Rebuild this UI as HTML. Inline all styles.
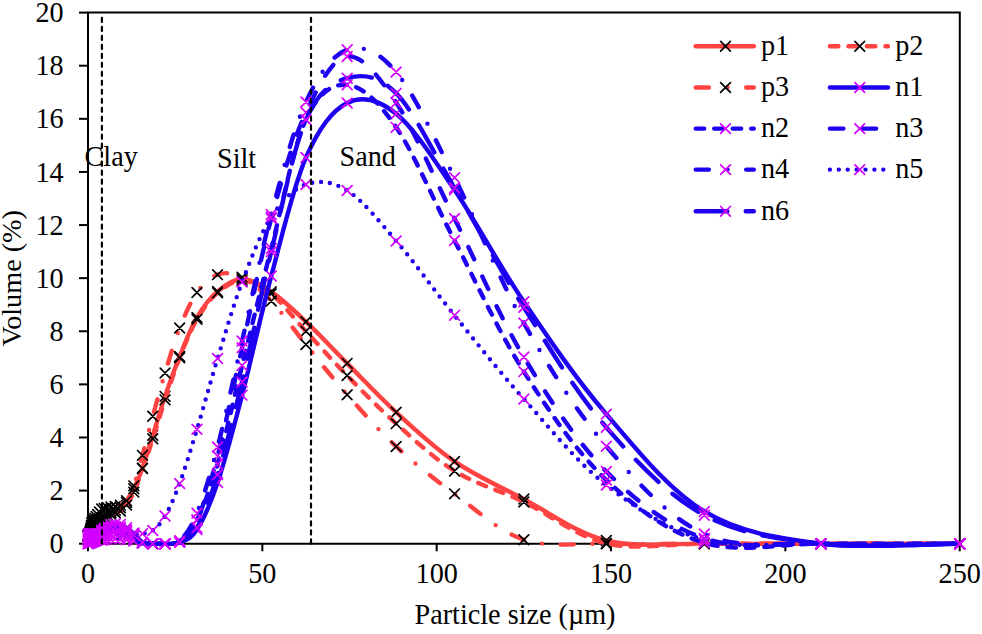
<!DOCTYPE html>
<html><head><meta charset="utf-8"><style>
html,body{margin:0;padding:0;background:#fff;width:982px;height:634px;overflow:hidden}
svg{display:block}
text{font-family:"Liberation Serif", serif;font-size:28.2px;fill:#000}
</style></head><body>
<svg width="982" height="634" viewBox="0 0 982 634">
<path d="M88.0,12.6H959.8V543.7H88.0Z" fill="none" stroke="#000" stroke-width="2"/>
<line x1="79" y1="543.70" x2="88.0" y2="543.70" stroke="#000" stroke-width="2"/>
<text transform="translate(63.60,553.30) scale(1,1.05)" text-anchor="end">0</text>
<line x1="79" y1="490.59" x2="88.0" y2="490.59" stroke="#000" stroke-width="2"/>
<text transform="translate(63.60,500.19) scale(1,1.05)" text-anchor="end">2</text>
<line x1="79" y1="437.48" x2="88.0" y2="437.48" stroke="#000" stroke-width="2"/>
<text transform="translate(63.60,447.08) scale(1,1.05)" text-anchor="end">4</text>
<line x1="79" y1="384.37" x2="88.0" y2="384.37" stroke="#000" stroke-width="2"/>
<text transform="translate(63.60,393.97) scale(1,1.05)" text-anchor="end">6</text>
<line x1="79" y1="331.26" x2="88.0" y2="331.26" stroke="#000" stroke-width="2"/>
<text transform="translate(63.60,340.86) scale(1,1.05)" text-anchor="end">8</text>
<line x1="79" y1="278.15" x2="88.0" y2="278.15" stroke="#000" stroke-width="2"/>
<text transform="translate(63.60,287.75) scale(1,1.05)" text-anchor="end">10</text>
<line x1="79" y1="225.04" x2="88.0" y2="225.04" stroke="#000" stroke-width="2"/>
<text transform="translate(63.60,234.64) scale(1,1.05)" text-anchor="end">12</text>
<line x1="79" y1="171.93" x2="88.0" y2="171.93" stroke="#000" stroke-width="2"/>
<text transform="translate(63.60,181.53) scale(1,1.05)" text-anchor="end">14</text>
<line x1="79" y1="118.82" x2="88.0" y2="118.82" stroke="#000" stroke-width="2"/>
<text transform="translate(63.60,128.42) scale(1,1.05)" text-anchor="end">16</text>
<line x1="79" y1="65.71" x2="88.0" y2="65.71" stroke="#000" stroke-width="2"/>
<text transform="translate(63.60,75.31) scale(1,1.05)" text-anchor="end">18</text>
<line x1="79" y1="12.60" x2="88.0" y2="12.60" stroke="#000" stroke-width="2"/>
<text transform="translate(63.60,22.20) scale(1,1.05)" text-anchor="end">20</text>
<line x1="88.00" y1="543.7" x2="88.00" y2="551.3" stroke="#000" stroke-width="2"/>
<text transform="translate(88.00,583.20) scale(1,1.05)" text-anchor="middle">0</text>
<line x1="262.34" y1="543.7" x2="262.34" y2="551.3" stroke="#000" stroke-width="2"/>
<text transform="translate(262.34,583.20) scale(1,1.05)" text-anchor="middle">50</text>
<line x1="436.68" y1="543.7" x2="436.68" y2="551.3" stroke="#000" stroke-width="2"/>
<text transform="translate(436.68,583.20) scale(1,1.05)" text-anchor="middle">100</text>
<line x1="611.02" y1="543.7" x2="611.02" y2="551.3" stroke="#000" stroke-width="2"/>
<text transform="translate(611.02,583.20) scale(1,1.05)" text-anchor="middle">150</text>
<line x1="785.36" y1="543.7" x2="785.36" y2="551.3" stroke="#000" stroke-width="2"/>
<text transform="translate(785.36,583.20) scale(1,1.05)" text-anchor="middle">200</text>
<line x1="959.70" y1="543.7" x2="959.70" y2="551.3" stroke="#000" stroke-width="2"/>
<text transform="translate(959.70,583.20) scale(1,1.05)" text-anchor="middle">250</text>
<text transform="translate(414.50,624.00) scale(1,1.05)">Particle size (µm)</text>
<text transform="translate(20.5,278.3) rotate(-90)" text-anchor="middle">Volume (%)</text>
<path d="M88.04,535.73 C88.04,535.73 88.04,535.73 88.04,535.73 C88.05,535.73 88.05,535.73 88.05,535.73 C88.06,535.73 88.06,535.73 88.06,535.73 C88.07,535.73 88.07,535.73 88.08,535.73 C88.08,535.73 88.08,535.73 88.09,535.73 C88.09,535.73 88.10,535.73 88.11,535.73 C88.11,535.73 88.12,535.73 88.13,535.73 C88.13,535.73 88.14,535.73 88.15,535.73 C88.16,535.73 88.17,535.73 88.18,535.73 C88.19,535.73 88.20,535.73 88.21,535.73 C88.23,535.73 88.24,535.73 88.25,535.73 C88.27,535.73 88.28,535.73 88.30,535.73 C88.32,535.73 88.34,535.73 88.36,535.73 C88.38,535.73 88.40,535.73 88.43,535.73 C88.45,535.73 88.48,535.73 88.51,535.73 C88.54,535.73 88.57,535.73 88.60,535.73 C88.64,535.73 88.67,535.73 88.72,535.73 C88.76,535.73 88.80,535.73 88.85,535.73 C88.90,535.73 88.95,535.73 89.01,535.73 C89.07,535.73 89.13,535.76 89.20,535.73 C89.27,535.71 89.35,535.80 89.43,535.56 C89.51,535.33 89.60,534.78 89.70,534.33 C89.80,533.88 89.91,533.39 90.02,532.85 C90.14,532.32 90.27,531.74 90.41,531.10 C90.55,530.47 90.70,529.78 90.86,529.02 C91.03,528.26 91.21,527.45 91.41,526.55 C91.60,525.64 91.81,524.25 92.05,523.60 C92.28,522.95 92.54,522.88 92.82,522.64 C93.10,522.40 93.39,522.32 93.73,522.14 C94.06,521.96 94.41,521.76 94.81,521.55 C95.21,521.33 95.63,521.10 96.10,520.84 C96.57,520.58 97.07,520.31 97.63,520.00 C98.19,519.69 98.79,519.37 99.45,519.00 C100.12,518.64 100.83,518.25 101.62,517.81 C102.41,517.38 103.26,516.92 104.20,516.40 C105.14,515.88 106.14,515.33 107.26,514.72 C108.38,514.11 109.58,513.45 110.91,512.72 C112.24,511.99 113.66,511.16 115.24,510.34 C116.82,509.53 118.51,509.15 120.39,507.85 C122.28,506.55 124.29,505.73 126.52,502.54 C128.76,499.36 131.15,494.49 133.81,488.74 C136.47,482.99 139.32,476.96 142.48,468.06 C145.64,459.16 149.03,447.29 152.79,435.34 C156.55,423.39 160.58,409.49 165.05,396.35 C169.52,383.21 174.31,369.65 179.63,356.50 C184.95,343.35 190.64,328.30 196.96,317.45 C203.29,306.60 210.06,297.84 217.58,291.42 C225.10,285.01 233.15,278.91 242.10,278.95 C251.04,279.00 260.61,284.56 271.25,291.69 C281.89,298.81 293.27,309.75 305.93,321.70 C318.58,333.65 332.11,348.29 347.16,363.38 C362.20,378.47 378.30,395.91 396.19,412.25 C414.08,428.59 433.23,446.93 454.50,461.40 C475.78,475.88 498.55,485.90 523.85,499.09 C549.15,512.27 576.23,533.08 606.32,540.51 C636.41,547.95 668.60,543.17 704.38,543.70 C740.17,544.23 778.46,543.70 821.01,543.70 C863.56,543.70 936.58,543.70 959.70,543.70" fill="none" stroke="#FF4343" stroke-width="4.4" stroke-linecap="round" stroke-linejoin="round"/>
<path d="M83.2,530.9L92.9,540.6M83.2,540.6L92.9,530.9M83.2,530.9L92.9,540.6M83.2,540.6L92.9,530.9M83.2,530.9L92.9,540.6M83.2,540.6L92.9,530.9M83.2,530.9L92.9,540.6M83.2,540.6L92.9,530.9M83.2,530.9L92.9,540.6M83.2,540.6L92.9,530.9M83.2,530.9L92.9,540.6M83.2,540.6L92.9,530.9M83.3,530.9L93.0,540.6M83.3,540.6L93.0,530.9M83.3,530.9L93.0,540.6M83.3,540.6L93.0,530.9M83.3,530.9L93.0,540.6M83.3,540.6L93.0,530.9M83.3,530.9L93.0,540.6M83.3,540.6L93.0,530.9M83.4,530.9L93.1,540.6M83.4,540.6L93.1,530.9M83.4,530.9L93.1,540.6M83.4,540.6L93.1,530.9M83.5,530.9L93.2,540.6M83.5,540.6L93.2,530.9M83.5,530.9L93.2,540.6M83.5,540.6L93.2,530.9M83.6,530.9L93.3,540.6M83.6,540.6L93.3,530.9M83.7,530.9L93.4,540.6M83.7,540.6L93.4,530.9M83.8,530.9L93.5,540.6M83.8,540.6L93.5,530.9M83.9,530.9L93.6,540.6M83.9,540.6L93.6,530.9M84.0,530.9L93.7,540.6M84.0,540.6L93.7,530.9M84.2,530.9L93.9,540.6M84.2,540.6L93.9,530.9M84.4,530.9L94.1,540.6M84.4,540.6L94.1,530.9M84.6,530.7L94.3,540.4M84.6,540.4L94.3,530.7M84.9,529.5L94.6,539.2M84.9,539.2L94.6,529.5M85.2,528.0L94.9,537.7M85.2,537.7L94.9,528.0M85.6,526.3L95.3,536.0M85.6,536.0L95.3,526.3M86.0,524.2L95.7,533.9M86.0,533.9L95.7,524.2M86.6,521.7L96.3,531.4M86.6,531.4L96.3,521.7M87.2,518.8L96.9,528.5M87.2,528.5L96.9,518.8M88.0,517.8L97.7,527.5M88.0,527.5L97.7,517.8M88.9,517.3L98.6,527.0M88.9,527.0L98.6,517.3M90.0,516.7L99.7,526.4M90.0,526.4L99.7,516.7M91.2,516.0L100.9,525.7M91.2,525.7L100.9,516.0M92.8,515.2L102.5,524.9M92.8,524.9L102.5,515.2M94.6,514.2L104.3,523.9M94.6,523.9L104.3,514.2M96.8,513.0L106.5,522.7M96.8,522.7L106.5,513.0M99.3,511.5L109.0,521.2M99.3,521.2L109.0,511.5M102.4,509.9L112.1,519.6M102.4,519.6L112.1,509.9M106.1,507.9L115.8,517.6M106.1,517.6L115.8,507.9M110.4,505.5L120.1,515.2M110.4,515.2L120.1,505.5M115.5,503.0L125.2,512.7M115.5,512.7L125.2,503.0M121.7,497.7L131.4,507.4M121.7,507.4L131.4,497.7M129.0,483.9L138.7,493.6M129.0,493.6L138.7,483.9M137.6,463.2L147.3,472.9M137.6,472.9L147.3,463.2M147.9,430.5L157.6,440.2M147.9,440.2L157.6,430.5M160.2,391.5L169.9,401.2M160.2,401.2L169.9,391.5M174.8,351.7L184.5,361.4M174.8,361.4L184.5,351.7M192.1,312.6L201.8,322.3M192.1,322.3L201.8,312.6M212.7,286.6L222.4,296.3M212.7,296.3L222.4,286.6M237.2,274.1L246.9,283.8M237.2,283.8L246.9,274.1M266.4,286.8L276.1,296.5M266.4,296.5L276.1,286.8M301.1,316.9L310.8,326.6M301.1,326.6L310.8,316.9M342.3,358.5L352.0,368.2M342.3,368.2L352.0,358.5M391.3,407.4L401.0,417.1M391.3,417.1L401.0,407.4M449.7,456.6L459.4,466.3M449.7,466.3L459.4,456.6M519.0,494.2L528.7,503.9M519.0,503.9L528.7,494.2M601.5,535.7L611.2,545.4M601.5,545.4L611.2,535.7M699.5,538.8L709.2,548.5M699.5,548.5L709.2,538.8M816.2,538.9L825.9,548.6M816.2,548.6L825.9,538.9M954.9,538.9L964.6,548.6M954.9,548.6L964.6,538.9" fill="none" stroke="#000" stroke-width="1.7" stroke-linecap="round"/>
<path d="M88.04,535.73 C88.04,535.73 88.04,535.73 88.04,535.73 C88.05,535.73 88.05,535.73 88.05,535.73 C88.06,535.73 88.06,535.73 88.06,535.73 C88.07,535.73 88.07,535.73 88.08,535.73 C88.08,535.73 88.08,535.73 88.09,535.73 C88.09,535.73 88.10,535.73 88.11,535.73 C88.11,535.73 88.12,535.73 88.13,535.73 C88.13,535.73 88.14,535.73 88.15,535.73 C88.16,535.73 88.17,535.73 88.18,535.73 C88.19,535.73 88.20,535.73 88.21,535.73 C88.23,535.73 88.24,535.73 88.25,535.73 C88.27,535.73 88.28,535.73 88.30,535.73 C88.32,535.73 88.34,535.73 88.36,535.73 C88.38,535.73 88.40,535.73 88.43,535.73 C88.45,535.73 88.48,535.73 88.51,535.73 C88.54,535.73 88.57,535.73 88.60,535.73 C88.64,535.73 88.67,535.73 88.72,535.73 C88.76,535.73 88.80,535.73 88.85,535.73 C88.90,535.73 88.95,535.73 89.01,535.73 C89.07,535.73 89.13,535.76 89.20,535.73 C89.27,535.70 89.35,535.80 89.43,535.56 C89.51,535.31 89.60,534.74 89.70,534.27 C89.80,533.80 89.91,533.29 90.02,532.73 C90.14,532.18 90.27,531.58 90.41,530.91 C90.55,530.25 90.70,529.53 90.86,528.74 C91.03,527.95 91.21,527.11 91.41,526.16 C91.60,525.22 91.81,523.76 92.05,523.10 C92.28,522.44 92.54,522.41 92.82,522.19 C93.10,521.98 93.39,521.95 93.73,521.81 C94.06,521.67 94.41,521.52 94.81,521.36 C95.21,521.19 95.63,521.01 96.10,520.82 C96.57,520.62 97.07,520.41 97.63,520.17 C98.19,519.94 98.79,519.69 99.45,519.41 C100.12,519.13 100.83,518.83 101.62,518.50 C102.41,518.17 103.26,517.82 104.20,517.42 C105.14,517.03 106.14,516.61 107.26,516.14 C108.38,515.67 109.58,515.17 110.91,514.61 C112.24,514.06 113.66,513.39 115.24,512.80 C116.82,512.20 118.51,512.30 120.39,511.03 C122.28,509.77 124.29,508.34 126.52,505.20 C128.76,502.06 131.15,498.29 133.81,492.19 C136.47,486.09 139.32,477.49 142.48,468.59 C145.64,459.69 149.03,450.26 152.79,438.79 C156.55,427.33 160.58,413.29 165.05,399.80 C169.52,386.31 174.31,371.25 179.63,357.83 C184.95,344.42 190.64,330.16 196.96,319.31 C203.29,308.46 210.06,299.17 217.58,292.75 C225.10,286.33 233.15,280.64 242.10,280.81 C251.04,280.99 260.61,285.40 271.25,293.81 C281.89,302.22 293.27,317.63 305.93,331.26 C318.58,344.89 332.11,360.19 347.16,375.59 C362.20,390.99 378.30,407.77 396.19,423.67 C414.08,439.56 433.23,457.90 454.50,470.96 C475.78,484.02 498.55,489.93 523.85,502.01 C549.15,514.09 576.23,536.49 606.32,543.43 C636.41,550.38 668.60,543.66 704.38,543.70 C740.17,543.74 778.46,543.70 821.01,543.70 C863.56,543.70 936.58,543.70 959.70,543.70" fill="none" stroke="#FF4343" stroke-width="4.4" stroke-linecap="round" stroke-linejoin="round" stroke-dasharray="8.5 10"/>
<path d="M83.2,530.9L92.9,540.6M83.2,540.6L92.9,530.9M83.2,530.9L92.9,540.6M83.2,540.6L92.9,530.9M83.2,530.9L92.9,540.6M83.2,540.6L92.9,530.9M83.2,530.9L92.9,540.6M83.2,540.6L92.9,530.9M83.2,530.9L92.9,540.6M83.2,540.6L92.9,530.9M83.2,530.9L92.9,540.6M83.2,540.6L92.9,530.9M83.3,530.9L93.0,540.6M83.3,540.6L93.0,530.9M83.3,530.9L93.0,540.6M83.3,540.6L93.0,530.9M83.3,530.9L93.0,540.6M83.3,540.6L93.0,530.9M83.3,530.9L93.0,540.6M83.3,540.6L93.0,530.9M83.4,530.9L93.1,540.6M83.4,540.6L93.1,530.9M83.4,530.9L93.1,540.6M83.4,540.6L93.1,530.9M83.5,530.9L93.2,540.6M83.5,540.6L93.2,530.9M83.5,530.9L93.2,540.6M83.5,540.6L93.2,530.9M83.6,530.9L93.3,540.6M83.6,540.6L93.3,530.9M83.7,530.9L93.4,540.6M83.7,540.6L93.4,530.9M83.8,530.9L93.5,540.6M83.8,540.6L93.5,530.9M83.9,530.9L93.6,540.6M83.9,540.6L93.6,530.9M84.0,530.9L93.7,540.6M84.0,540.6L93.7,530.9M84.2,530.9L93.9,540.6M84.2,540.6L93.9,530.9M84.4,530.9L94.1,540.6M84.4,540.6L94.1,530.9M84.6,530.7L94.3,540.4M84.6,540.4L94.3,530.7M84.9,529.4L94.6,539.1M84.9,539.1L94.6,529.4M85.2,527.9L94.9,537.6M85.2,537.6L94.9,527.9M85.6,526.1L95.3,535.8M85.6,535.8L95.3,526.1M86.0,523.9L95.7,533.6M86.0,533.6L95.7,523.9M86.6,521.3L96.3,531.0M86.6,531.0L96.3,521.3M87.2,518.2L96.9,527.9M87.2,527.9L96.9,518.2M88.0,517.3L97.7,527.0M88.0,527.0L97.7,517.3M88.9,517.0L98.6,526.7M88.9,526.7L98.6,517.0M90.0,516.5L99.7,526.2M90.0,526.2L99.7,516.5M91.2,516.0L100.9,525.7M91.2,525.7L100.9,516.0M92.8,515.3L102.5,525.0M92.8,525.0L102.5,515.3M94.6,514.6L104.3,524.3M94.6,524.3L104.3,514.6M96.8,513.7L106.5,523.4M96.8,523.4L106.5,513.7M99.3,512.6L109.0,522.3M99.3,522.3L109.0,512.6M102.4,511.3L112.1,521.0M102.4,521.0L112.1,511.3M106.1,509.8L115.8,519.5M106.1,519.5L115.8,509.8M110.4,507.9L120.1,517.6M110.4,517.6L120.1,507.9M115.5,506.2L125.2,515.9M115.5,515.9L125.2,506.2M121.7,500.3L131.4,510.0M121.7,510.0L131.4,500.3M129.0,487.3L138.7,497.0M129.0,497.0L138.7,487.3M137.6,463.7L147.3,473.4M137.6,473.4L147.3,463.7M147.9,433.9L157.6,443.6M147.9,443.6L157.6,433.9M160.2,395.0L169.9,404.7M160.2,404.7L169.9,395.0M174.8,353.0L184.5,362.7M174.8,362.7L184.5,353.0M192.1,314.5L201.8,324.2M192.1,324.2L201.8,314.5M212.7,287.9L222.4,297.6M212.7,297.6L222.4,287.9M237.2,276.0L246.9,285.7M237.2,285.7L246.9,276.0M266.4,289.0L276.1,298.7M266.4,298.7L276.1,289.0M301.1,326.4L310.8,336.1M301.1,336.1L310.8,326.4M342.3,370.7L352.0,380.4M342.3,380.4L352.0,370.7M391.3,418.8L401.0,428.5M391.3,428.5L401.0,418.8M449.7,466.1L459.4,475.8M449.7,475.8L459.4,466.1M519.0,497.2L528.7,506.9M519.0,506.9L528.7,497.2M601.5,538.6L611.2,548.3M601.5,548.3L611.2,538.6M699.5,538.8L709.2,548.5M699.5,548.5L709.2,538.8M816.2,538.9L825.9,548.6M816.2,548.6L825.9,538.9M954.9,538.9L964.6,548.6M954.9,548.6L964.6,538.9" fill="none" stroke="#000" stroke-width="1.7" stroke-linecap="round"/>
<path d="M88.04,535.73 C88.04,535.73 88.04,535.73 88.04,535.73 C88.05,535.73 88.05,535.73 88.05,535.73 C88.06,535.73 88.06,535.73 88.06,535.73 C88.07,535.73 88.07,535.73 88.08,535.73 C88.08,535.73 88.08,535.73 88.09,535.73 C88.09,535.73 88.10,535.73 88.11,535.73 C88.11,535.73 88.12,535.73 88.13,535.73 C88.13,535.73 88.14,535.73 88.15,535.73 C88.16,535.73 88.17,535.73 88.18,535.73 C88.19,535.73 88.20,535.73 88.21,535.73 C88.23,535.73 88.24,535.73 88.25,535.73 C88.27,535.73 88.28,535.73 88.30,535.73 C88.32,535.73 88.34,535.73 88.36,535.73 C88.38,535.73 88.40,535.73 88.43,535.73 C88.45,535.73 88.48,535.73 88.51,535.73 C88.54,535.73 88.57,535.73 88.60,535.73 C88.64,535.73 88.67,535.73 88.72,535.73 C88.76,535.73 88.80,535.73 88.85,535.73 C88.90,535.73 88.95,535.73 89.01,535.73 C89.07,535.73 89.13,535.76 89.20,535.73 C89.27,535.70 89.35,535.80 89.43,535.55 C89.51,535.30 89.60,534.70 89.70,534.21 C89.80,533.72 89.91,533.20 90.02,532.62 C90.14,532.03 90.27,531.41 90.41,530.72 C90.55,530.03 90.70,529.29 90.86,528.46 C91.03,527.64 91.21,526.76 91.41,525.78 C91.60,524.80 91.81,523.38 92.05,522.59 C92.28,521.81 92.54,521.52 92.82,521.06 C93.10,520.60 93.39,520.27 93.73,519.81 C94.06,519.35 94.41,518.87 94.81,518.33 C95.21,517.78 95.63,517.20 96.10,516.56 C96.57,515.91 97.07,515.22 97.63,514.46 C98.19,513.69 98.79,512.87 99.45,511.96 C100.12,511.05 100.83,509.59 101.62,508.99 C102.41,508.39 103.26,508.62 104.20,508.38 C105.14,508.15 106.14,507.80 107.26,507.58 C108.38,507.36 109.58,507.23 110.91,507.05 C112.24,506.88 113.66,506.83 115.24,506.52 C116.82,506.21 118.51,506.17 120.39,505.19 C122.28,504.22 124.29,503.91 126.52,500.68 C128.76,497.45 131.15,493.38 133.81,485.82 C136.47,478.26 139.32,466.93 142.48,455.33 C145.64,443.73 149.03,429.94 152.79,416.22 C156.55,402.49 160.58,387.67 165.05,372.98 C169.52,358.30 174.31,341.51 179.63,328.09 C184.95,314.68 190.64,301.39 196.96,292.49 C203.29,283.59 210.06,277.26 217.58,274.70 C225.10,272.13 233.15,272.72 242.10,277.10 C251.04,281.48 260.61,289.74 271.25,300.98 C281.89,312.22 293.27,328.92 305.93,344.54 C318.58,360.16 332.11,377.71 347.16,394.71 C362.20,411.70 378.30,429.99 396.19,446.50 C414.08,463.02 433.23,478.27 454.50,493.81 C475.78,509.34 498.55,531.40 523.85,539.72 C549.15,548.03 576.23,543.04 606.32,543.70 C636.41,544.36 668.60,543.70 704.38,543.70 C740.17,543.70 778.46,543.70 821.01,543.70 C863.56,543.70 936.58,543.70 959.70,543.70" fill="none" stroke="#FF4343" stroke-width="4.4" stroke-linecap="round" stroke-linejoin="round" stroke-dasharray="13.2 18.65 0 18.65"/>
<path d="M83.2,530.9L92.9,540.6M83.2,540.6L92.9,530.9M83.2,530.9L92.9,540.6M83.2,540.6L92.9,530.9M83.2,530.9L92.9,540.6M83.2,540.6L92.9,530.9M83.2,530.9L92.9,540.6M83.2,540.6L92.9,530.9M83.2,530.9L92.9,540.6M83.2,540.6L92.9,530.9M83.2,530.9L92.9,540.6M83.2,540.6L92.9,530.9M83.3,530.9L93.0,540.6M83.3,540.6L93.0,530.9M83.3,530.9L93.0,540.6M83.3,540.6L93.0,530.9M83.3,530.9L93.0,540.6M83.3,540.6L93.0,530.9M83.3,530.9L93.0,540.6M83.3,540.6L93.0,530.9M83.4,530.9L93.1,540.6M83.4,540.6L93.1,530.9M83.4,530.9L93.1,540.6M83.4,540.6L93.1,530.9M83.5,530.9L93.2,540.6M83.5,540.6L93.2,530.9M83.5,530.9L93.2,540.6M83.5,540.6L93.2,530.9M83.6,530.9L93.3,540.6M83.6,540.6L93.3,530.9M83.7,530.9L93.4,540.6M83.7,540.6L93.4,530.9M83.8,530.9L93.5,540.6M83.8,540.6L93.5,530.9M83.9,530.9L93.6,540.6M83.9,540.6L93.6,530.9M84.0,530.9L93.7,540.6M84.0,540.6L93.7,530.9M84.2,530.9L93.9,540.6M84.2,540.6L93.9,530.9M84.4,530.9L94.1,540.6M84.4,540.6L94.1,530.9M84.6,530.7L94.3,540.4M84.6,540.4L94.3,530.7M84.9,529.4L94.6,539.1M84.9,539.1L94.6,529.4M85.2,527.8L94.9,537.5M85.2,537.5L94.9,527.8M85.6,525.9L95.3,535.6M85.6,535.6L95.3,525.9M86.0,523.6L95.7,533.3M86.0,533.3L95.7,523.6M86.6,520.9L96.3,530.6M86.6,530.6L96.3,520.9M87.2,517.7L96.9,527.4M87.2,527.4L96.9,517.7M88.0,516.2L97.7,525.9M88.0,525.9L97.7,516.2M88.9,515.0L98.6,524.7M88.9,524.7L98.6,515.0M90.0,513.5L99.7,523.2M90.0,523.2L99.7,513.5M91.2,511.7L100.9,521.4M91.2,521.4L100.9,511.7M92.8,509.6L102.5,519.3M92.8,519.3L102.5,509.6M94.6,507.1L104.3,516.8M94.6,516.8L104.3,507.1M96.8,504.1L106.5,513.8M96.8,513.8L106.5,504.1M99.3,503.5L109.0,513.2M99.3,513.2L109.0,503.5M102.4,502.7L112.1,512.4M102.4,512.4L112.1,502.7M106.1,502.2L115.8,511.9M106.1,511.9L115.8,502.2M110.4,501.7L120.1,511.4M110.4,511.4L120.1,501.7M115.5,500.3L125.2,510.0M115.5,510.0L125.2,500.3M121.7,495.8L131.4,505.5M121.7,505.5L131.4,495.8M129.0,481.0L138.7,490.7M129.0,490.7L138.7,481.0M137.6,450.5L147.3,460.2M137.6,460.2L147.3,450.5M147.9,411.4L157.6,421.1M147.9,421.1L157.6,411.4M160.2,368.1L169.9,377.8M160.2,377.8L169.9,368.1M174.8,323.2L184.5,332.9M174.8,332.9L184.5,323.2M192.1,287.6L201.8,297.3M192.1,297.3L201.8,287.6M212.7,269.8L222.4,279.5M212.7,279.5L222.4,269.8M237.2,272.3L246.9,282.0M237.2,282.0L246.9,272.3M266.4,296.1L276.1,305.8M266.4,305.8L276.1,296.1M301.1,339.7L310.8,349.4M301.1,349.4L310.8,339.7M342.3,389.9L352.0,399.6M342.3,399.6L352.0,389.9M391.3,441.7L401.0,451.4M391.3,451.4L401.0,441.7M449.7,489.0L459.4,498.7M449.7,498.7L459.4,489.0M519.0,534.9L528.7,544.6M519.0,544.6L528.7,534.9M601.5,538.9L611.2,548.6M601.5,548.6L611.2,538.9M699.5,538.9L709.2,548.6M699.5,548.6L709.2,538.9M816.2,538.9L825.9,548.6M816.2,548.6L825.9,538.9M954.9,538.9L964.6,548.6M954.9,548.6L964.6,538.9" fill="none" stroke="#000" stroke-width="1.7" stroke-linecap="round"/>
<path d="M88.04,533.87 C88.04,533.87 88.04,533.87 88.04,533.87 C88.05,533.87 88.05,533.87 88.05,533.87 C88.06,533.87 88.06,533.87 88.06,533.87 C88.07,533.87 88.07,533.87 88.08,533.87 C88.08,533.87 88.08,533.87 88.09,533.87 C88.09,533.87 88.10,533.87 88.11,533.87 C88.11,533.87 88.12,533.87 88.13,533.87 C88.13,533.87 88.14,533.87 88.15,533.87 C88.16,533.87 88.17,533.87 88.18,533.87 C88.19,533.87 88.20,533.87 88.21,533.87 C88.23,533.87 88.24,533.87 88.25,533.87 C88.27,533.87 88.28,533.87 88.30,533.87 C88.32,533.87 88.34,533.87 88.36,533.87 C88.38,533.87 88.40,533.87 88.43,533.87 C88.45,533.87 88.48,533.87 88.51,533.87 C88.54,533.87 88.57,533.87 88.60,533.87 C88.64,533.87 88.67,533.87 88.72,533.87 C88.76,533.87 88.80,533.87 88.85,533.87 C88.90,533.87 88.95,533.87 89.01,533.87 C89.07,533.87 89.13,533.87 89.20,533.87 C89.27,533.87 89.35,533.87 89.43,533.87 C89.51,533.87 89.60,533.87 89.70,533.87 C89.80,533.87 89.91,533.87 90.02,533.87 C90.14,533.87 90.27,533.87 90.41,533.87 C90.55,533.87 90.70,533.87 90.86,533.87 C91.03,533.87 91.21,533.87 91.41,533.87 C91.60,533.87 91.81,533.87 92.05,533.87 C92.28,533.87 92.54,533.87 92.82,533.87 C93.10,533.87 93.39,533.87 93.73,533.87 C94.06,533.87 94.41,533.87 94.81,533.87 C95.21,533.87 95.63,533.87 96.10,533.87 C96.57,533.87 97.07,533.87 97.63,533.87 C98.19,533.87 98.79,534.45 99.45,533.87 C100.12,533.30 100.83,531.35 101.62,530.42 C102.41,529.50 103.26,529.02 104.20,528.31 C105.14,527.60 106.14,526.79 107.26,526.17 C108.38,525.55 109.58,524.98 110.91,524.58 C112.24,524.18 113.66,523.79 115.24,523.79 C116.82,523.79 118.51,523.92 120.39,524.58 C122.28,525.24 124.29,526.26 126.52,527.76 C128.76,529.27 131.15,531.17 133.81,533.61 C136.47,536.04 139.32,540.67 142.48,542.36 C145.64,544.04 149.03,543.48 152.79,543.70 C156.55,543.92 160.58,543.92 165.05,543.70 C169.52,543.48 174.31,544.72 179.63,542.37 C184.95,540.03 190.64,539.59 196.96,529.63 C203.29,519.66 210.06,504.99 217.58,482.59 C225.10,460.18 233.15,429.61 242.10,395.19 C251.04,360.77 260.61,315.68 271.25,276.08 C281.89,236.48 293.27,186.45 305.93,157.59 C318.58,128.73 332.11,110.21 347.16,102.91 C362.20,95.60 378.30,99.29 396.19,113.77 C414.08,128.25 433.23,158.46 454.50,189.80 C475.78,221.13 498.55,264.40 523.85,301.78 C549.15,339.17 576.23,379.16 606.32,414.11 C636.41,449.07 668.60,489.90 704.38,511.49 C740.17,533.09 778.46,538.33 821.01,543.70 C863.56,549.07 936.58,543.70 959.70,543.70" fill="none" stroke="#1E00F0" stroke-width="4.4" stroke-linecap="round" stroke-linejoin="round"/>
<path d="M83.2,529.0L92.9,538.7M83.2,538.7L92.9,529.0M83.2,529.0L92.9,538.7M83.2,538.7L92.9,529.0M83.2,529.0L92.9,538.7M83.2,538.7L92.9,529.0M83.2,529.0L92.9,538.7M83.2,538.7L92.9,529.0M83.2,529.0L92.9,538.7M83.2,538.7L92.9,529.0M83.2,529.0L92.9,538.7M83.2,538.7L92.9,529.0M83.3,529.0L93.0,538.7M83.3,538.7L93.0,529.0M83.3,529.0L93.0,538.7M83.3,538.7L93.0,529.0M83.3,529.0L93.0,538.7M83.3,538.7L93.0,529.0M83.3,529.0L93.0,538.7M83.3,538.7L93.0,529.0M83.4,529.0L93.1,538.7M83.4,538.7L93.1,529.0M83.4,529.0L93.1,538.7M83.4,538.7L93.1,529.0M83.5,529.0L93.2,538.7M83.5,538.7L93.2,529.0M83.5,529.0L93.2,538.7M83.5,538.7L93.2,529.0M83.6,529.0L93.3,538.7M83.6,538.7L93.3,529.0M83.7,529.0L93.4,538.7M83.7,538.7L93.4,529.0M83.8,529.0L93.5,538.7M83.8,538.7L93.5,529.0M83.9,529.0L93.6,538.7M83.9,538.7L93.6,529.0M84.0,529.0L93.7,538.7M84.0,538.7L93.7,529.0M84.2,529.0L93.9,538.7M84.2,538.7L93.9,529.0M84.4,529.0L94.1,538.7M84.4,538.7L94.1,529.0M84.6,529.0L94.3,538.7M84.6,538.7L94.3,529.0M84.9,529.0L94.6,538.7M84.9,538.7L94.6,529.0M85.2,529.0L94.9,538.7M85.2,538.7L94.9,529.0M85.6,529.0L95.3,538.7M85.6,538.7L95.3,529.0M86.0,529.0L95.7,538.7M86.0,538.7L95.7,529.0M86.6,529.0L96.3,538.7M86.6,538.7L96.3,529.0M87.2,529.0L96.9,538.7M87.2,538.7L96.9,529.0M88.0,529.0L97.7,538.7M88.0,538.7L97.7,529.0M88.9,529.0L98.6,538.7M88.9,538.7L98.6,529.0M90.0,529.0L99.7,538.7M90.0,538.7L99.7,529.0M91.2,529.0L100.9,538.7M91.2,538.7L100.9,529.0M92.8,529.0L102.5,538.7M92.8,538.7L102.5,529.0M94.6,529.0L104.3,538.7M94.6,538.7L104.3,529.0M96.8,525.6L106.5,535.3M96.8,535.3L106.5,525.6M99.3,523.5L109.0,533.2M99.3,533.2L109.0,523.5M102.4,521.3L112.1,531.0M102.4,531.0L112.1,521.3M106.1,519.7L115.8,529.4M106.1,529.4L115.8,519.7M110.4,518.9L120.1,528.6M110.4,528.6L120.1,518.9M115.5,519.7L125.2,529.4M115.5,529.4L125.2,519.7M121.7,522.9L131.4,532.6M121.7,532.6L131.4,522.9M129.0,528.8L138.7,538.5M129.0,538.5L138.7,528.8M137.6,537.5L147.3,547.2M137.6,547.2L147.3,537.5M147.9,538.9L157.6,548.6M147.9,548.6L157.6,538.9M160.2,538.9L169.9,548.6M160.2,548.6L169.9,538.9M174.8,537.5L184.5,547.2M174.8,547.2L184.5,537.5M192.1,524.8L201.8,534.5M192.1,534.5L201.8,524.8M212.7,477.7L222.4,487.4M212.7,487.4L222.4,477.7M237.2,390.3L246.9,400.0M237.2,400.0L246.9,390.3M266.4,271.2L276.1,280.9M266.4,280.9L276.1,271.2M301.1,152.7L310.8,162.4M301.1,162.4L310.8,152.7M342.3,98.1L352.0,107.8M342.3,107.8L352.0,98.1M391.3,108.9L401.0,118.6M391.3,118.6L401.0,108.9M449.7,184.9L459.4,194.6M449.7,194.6L459.4,184.9M519.0,296.9L528.7,306.6M519.0,306.6L528.7,296.9M601.5,409.3L611.2,419.0M601.5,419.0L611.2,409.3M699.5,506.6L709.2,516.3M699.5,516.3L709.2,506.6M816.2,538.9L825.9,548.6M816.2,548.6L825.9,538.9M954.9,538.9L964.6,548.6M954.9,548.6L964.6,538.9" fill="none" stroke="#D400FF" stroke-width="1.7" stroke-linecap="round"/>
<path d="M88.04,543.67 C88.04,543.66 88.04,543.66 88.04,543.66 C88.05,543.66 88.05,543.65 88.05,543.65 C88.06,543.65 88.06,543.65 88.06,543.64 C88.07,543.64 88.07,543.64 88.08,543.63 C88.08,543.63 88.08,543.62 88.09,543.62 C88.09,543.61 88.10,543.61 88.11,543.60 C88.11,543.60 88.12,543.59 88.13,543.58 C88.13,543.58 88.14,543.57 88.15,543.56 C88.16,543.55 88.17,543.55 88.18,543.54 C88.19,543.53 88.20,543.52 88.21,543.51 C88.23,543.49 88.24,543.48 88.25,543.47 C88.27,543.46 88.28,543.44 88.30,543.42 C88.32,543.41 88.34,543.39 88.36,543.37 C88.38,543.35 88.40,543.33 88.43,543.31 C88.45,543.29 88.48,543.26 88.51,543.24 C88.54,543.21 88.57,543.18 88.60,543.15 C88.64,543.12 88.67,543.08 88.72,543.05 C88.76,543.01 88.80,542.97 88.85,542.92 C88.90,542.88 88.95,542.83 89.01,542.77 C89.07,542.72 89.13,542.66 89.20,542.60 C89.27,542.54 89.35,542.47 89.43,542.39 C89.51,542.32 89.60,542.23 89.70,542.14 C89.80,542.05 89.91,541.96 90.02,541.85 C90.14,541.74 90.27,541.63 90.41,541.50 C90.55,541.37 90.70,541.24 90.86,541.08 C91.03,540.93 91.21,540.77 91.41,540.59 C91.60,540.41 91.81,540.21 92.05,540.00 C92.28,539.78 92.54,539.55 92.82,539.30 C93.10,539.04 93.39,538.77 93.73,538.47 C94.06,538.16 94.41,537.84 94.81,537.48 C95.21,537.11 95.63,536.73 96.10,536.30 C96.57,535.87 97.07,535.30 97.63,534.90 C98.19,534.49 98.79,533.96 99.45,533.87 C100.12,533.79 100.83,534.56 101.62,534.41 C102.41,534.25 103.26,533.42 104.20,532.93 C105.14,532.43 106.14,531.86 107.26,531.43 C108.38,530.99 109.58,530.59 110.91,530.32 C112.24,530.04 113.66,529.76 115.24,529.76 C116.82,529.76 118.51,529.85 120.39,530.32 C122.28,530.78 124.29,531.49 126.52,532.55 C128.76,533.60 131.15,534.93 133.81,536.63 C136.47,538.34 139.32,541.58 142.48,542.76 C145.64,543.94 149.03,543.54 152.79,543.70 C156.55,543.86 160.58,544.14 165.05,543.70 C169.52,543.26 174.31,545.03 179.63,541.05 C184.95,537.06 190.64,532.64 196.96,519.80 C203.29,506.96 210.06,489.72 217.58,463.99 C225.10,438.27 233.15,401.37 242.10,365.45 C251.04,329.53 260.61,289.43 271.25,248.46 C281.89,207.49 293.27,146.89 305.93,119.62 C318.58,92.35 332.11,83.56 347.16,84.84 C362.20,86.12 378.30,101.37 396.19,127.31 C414.08,153.26 433.23,199.81 454.50,240.53 C475.78,281.25 498.55,331.72 523.85,371.62 C549.15,411.53 576.23,451.43 606.32,479.97 C636.41,508.51 668.60,532.23 704.38,542.86 C740.17,553.48 778.46,543.56 821.01,543.70 C863.56,543.84 936.58,543.70 959.70,543.70" fill="none" stroke="#1E00F0" stroke-width="4.4" stroke-linecap="round" stroke-linejoin="round" stroke-dasharray="8.5 10"/>
<path d="M83.2,538.8L92.9,548.5M83.2,548.5L92.9,538.8M83.2,538.8L92.9,548.5M83.2,548.5L92.9,538.8M83.2,538.8L92.9,548.5M83.2,548.5L92.9,538.8M83.2,538.8L92.9,548.5M83.2,548.5L92.9,538.8M83.2,538.8L92.9,548.5M83.2,548.5L92.9,538.8M83.2,538.8L92.9,548.5M83.2,548.5L92.9,538.8M83.3,538.8L93.0,548.5M83.3,548.5L93.0,538.8M83.3,538.7L93.0,548.4M83.3,548.4L93.0,538.7M83.3,538.7L93.0,548.4M83.3,548.4L93.0,538.7M83.3,538.7L93.0,548.4M83.3,548.4L93.0,538.7M83.4,538.7L93.1,548.4M83.4,548.4L93.1,538.7M83.4,538.6L93.1,548.3M83.4,548.3L93.1,538.6M83.5,538.6L93.2,548.3M83.5,548.3L93.2,538.6M83.5,538.5L93.2,548.2M83.5,548.2L93.2,538.5M83.6,538.5L93.3,548.2M83.6,548.2L93.3,538.5M83.7,538.4L93.4,548.1M83.7,548.1L93.4,538.4M83.8,538.3L93.5,548.0M83.8,548.0L93.5,538.3M83.9,538.2L93.6,547.9M83.9,547.9L93.6,538.2M84.0,538.1L93.7,547.8M84.0,547.8L93.7,538.1M84.2,537.9L93.9,547.6M84.2,547.6L93.9,537.9M84.4,537.7L94.1,547.4M84.4,547.4L94.1,537.7M84.6,537.5L94.3,547.2M84.6,547.2L94.3,537.5M84.9,537.3L94.6,547.0M84.9,547.0L94.6,537.3M85.2,537.0L94.9,546.7M85.2,546.7L94.9,537.0M85.6,536.6L95.3,546.3M85.6,546.3L95.3,536.6M86.0,536.2L95.7,545.9M86.0,545.9L95.7,536.2M86.6,535.7L96.3,545.4M86.6,545.4L96.3,535.7M87.2,535.1L96.9,544.8M87.2,544.8L96.9,535.1M88.0,534.4L97.7,544.1M88.0,544.1L97.7,534.4M88.9,533.6L98.6,543.3M88.9,543.3L98.6,533.6M90.0,532.6L99.7,542.3M90.0,542.3L99.7,532.6M91.2,531.4L100.9,541.1M91.2,541.1L100.9,531.4M92.8,530.0L102.5,539.7M92.8,539.7L102.5,530.0M94.6,529.0L104.3,538.7M94.6,538.7L104.3,529.0M96.8,529.6L106.5,539.3M96.8,539.3L106.5,529.6M99.3,528.1L109.0,537.8M99.3,537.8L109.0,528.1M102.4,526.6L112.1,536.3M102.4,536.3L112.1,526.6M106.1,525.5L115.8,535.2M106.1,535.2L115.8,525.5M110.4,524.9L120.1,534.6M110.4,534.6L120.1,524.9M115.5,525.5L125.2,535.2M115.5,535.2L125.2,525.5M121.7,527.7L131.4,537.4M121.7,537.4L131.4,527.7M129.0,531.8L138.7,541.5M129.0,541.5L138.7,531.8M137.6,537.9L147.3,547.6M137.6,547.6L147.3,537.9M147.9,538.9L157.6,548.6M147.9,548.6L157.6,538.9M160.2,538.9L169.9,548.6M160.2,548.6L169.9,538.9M174.8,536.2L184.5,545.9M174.8,545.9L184.5,536.2M192.1,515.0L201.8,524.7M192.1,524.7L201.8,515.0M212.7,459.1L222.4,468.8M212.7,468.8L222.4,459.1M237.2,360.6L246.9,370.3M237.2,370.3L246.9,360.6M266.4,243.6L276.1,253.3M266.4,253.3L276.1,243.6M301.1,114.8L310.8,124.5M301.1,124.5L310.8,114.8M342.3,80.0L352.0,89.7M342.3,89.7L352.0,80.0M391.3,122.5L401.0,132.2M391.3,132.2L401.0,122.5M449.7,235.7L459.4,245.4M449.7,245.4L459.4,235.7M519.0,366.8L528.7,376.5M519.0,376.5L528.7,366.8M601.5,475.1L611.2,484.8M601.5,484.8L611.2,475.1M699.5,538.0L709.2,547.7M699.5,547.7L709.2,538.0M816.2,538.9L825.9,548.6M816.2,548.6L825.9,538.9M954.9,538.9L964.6,548.6M954.9,548.6L964.6,538.9" fill="none" stroke="#D400FF" stroke-width="1.7" stroke-linecap="round"/>
<path d="M88.04,537.05 C88.04,537.05 88.04,537.05 88.04,537.05 C88.05,537.05 88.05,537.05 88.05,537.05 C88.06,537.04 88.06,537.04 88.06,537.04 C88.07,537.04 88.07,537.04 88.08,537.04 C88.08,537.04 88.08,537.04 88.09,537.03 C88.09,537.03 88.10,537.03 88.11,537.03 C88.11,537.03 88.12,537.02 88.13,537.02 C88.13,537.02 88.14,537.02 88.15,537.02 C88.16,537.01 88.17,537.01 88.18,537.01 C88.19,537.00 88.20,537.00 88.21,537.00 C88.23,536.99 88.24,536.99 88.25,536.98 C88.27,536.98 88.28,536.97 88.30,536.97 C88.32,536.96 88.34,536.96 88.36,536.95 C88.38,536.95 88.40,536.94 88.43,536.93 C88.45,536.92 88.48,536.92 88.51,536.91 C88.54,536.90 88.57,536.89 88.60,536.88 C88.64,536.87 88.67,536.86 88.72,536.84 C88.76,536.83 88.80,536.82 88.85,536.80 C88.90,536.79 88.95,536.77 89.01,536.75 C89.07,536.73 89.13,536.72 89.20,536.69 C89.27,536.67 89.35,536.65 89.43,536.63 C89.51,536.60 89.60,536.57 89.70,536.54 C89.80,536.51 89.91,536.48 90.02,536.44 C90.14,536.41 90.27,536.37 90.41,536.33 C90.55,536.29 90.70,536.24 90.86,536.19 C91.03,536.14 91.21,536.08 91.41,536.02 C91.60,535.96 91.81,535.90 92.05,535.83 C92.28,535.76 92.54,535.68 92.82,535.59 C93.10,535.51 93.39,535.42 93.73,535.32 C94.06,535.22 94.41,535.11 94.81,534.99 C95.21,534.87 95.63,534.74 96.10,534.59 C96.57,534.45 97.07,534.25 97.63,534.13 C98.19,534.01 98.79,533.28 99.45,533.87 C100.12,534.47 100.83,537.24 101.62,537.73 C102.41,538.21 103.26,537.09 104.20,536.77 C105.14,536.46 106.14,536.09 107.26,535.81 C108.38,535.53 109.58,535.28 110.91,535.10 C112.24,534.92 113.66,534.74 115.24,534.74 C116.82,534.74 118.51,534.80 120.39,535.10 C122.28,535.40 124.29,535.85 126.52,536.53 C128.76,537.21 131.15,538.06 133.81,539.16 C136.47,540.25 139.32,542.34 142.48,543.10 C145.64,543.85 149.03,543.60 152.79,543.70 C156.55,543.80 160.58,544.14 165.05,543.70 C169.52,543.26 174.31,544.94 179.63,541.05 C184.95,537.15 190.64,534.50 196.96,520.33 C203.29,506.16 210.06,484.80 217.58,456.02 C225.10,427.24 233.15,387.25 242.10,347.65 C251.04,308.06 260.61,257.66 271.25,218.46 C281.89,179.26 293.27,139.45 305.93,112.45 C318.58,85.44 332.11,58.07 347.16,56.44 C362.20,54.80 378.30,75.61 396.19,102.62 C414.08,129.63 433.23,176.09 454.50,218.49 C475.78,260.89 498.55,314.86 523.85,357.02 C549.15,399.18 576.23,441.25 606.32,471.47 C636.41,501.69 668.60,526.30 704.38,538.34 C740.17,550.38 778.46,542.81 821.01,543.70 C863.56,544.59 936.58,543.70 959.70,543.70" fill="none" stroke="#1E00F0" stroke-width="4.4" stroke-linecap="round" stroke-linejoin="round" stroke-dasharray="13.5 19.2"/>
<path d="M83.2,532.2L92.9,541.9M83.2,541.9L92.9,532.2M83.2,532.2L92.9,541.9M83.2,541.9L92.9,532.2M83.2,532.2L92.9,541.9M83.2,541.9L92.9,532.2M83.2,532.2L92.9,541.9M83.2,541.9L92.9,532.2M83.2,532.2L92.9,541.9M83.2,541.9L92.9,532.2M83.2,532.2L92.9,541.9M83.2,541.9L92.9,532.2M83.3,532.2L93.0,541.9M83.3,541.9L93.0,532.2M83.3,532.2L93.0,541.9M83.3,541.9L93.0,532.2M83.3,532.2L93.0,541.9M83.3,541.9L93.0,532.2M83.3,532.2L93.0,541.9M83.3,541.9L93.0,532.2M83.4,532.1L93.1,541.8M83.4,541.8L93.1,532.1M83.4,532.1L93.1,541.8M83.4,541.8L93.1,532.1M83.5,532.1L93.2,541.8M83.5,541.8L93.2,532.1M83.5,532.1L93.2,541.8M83.5,541.8L93.2,532.1M83.6,532.1L93.3,541.8M83.6,541.8L93.3,532.1M83.7,532.1L93.4,541.8M83.7,541.8L93.4,532.1M83.8,532.0L93.5,541.7M83.8,541.7L93.5,532.0M83.9,532.0L93.6,541.7M83.9,541.7L93.6,532.0M84.0,532.0L93.7,541.7M84.0,541.7L93.7,532.0M84.2,531.9L93.9,541.6M84.2,541.6L93.9,531.9M84.4,531.8L94.1,541.5M84.4,541.5L94.1,531.8M84.6,531.8L94.3,541.5M84.6,541.5L94.3,531.8M84.9,531.7L94.6,541.4M84.9,541.4L94.6,531.7M85.2,531.6L94.9,541.3M85.2,541.3L94.9,531.6M85.6,531.5L95.3,541.2M85.6,541.2L95.3,531.5M86.0,531.3L95.7,541.0M86.0,541.0L95.7,531.3M86.6,531.2L96.3,540.9M86.6,540.9L96.3,531.2M87.2,531.0L96.9,540.7M87.2,540.7L96.9,531.0M88.0,530.7L97.7,540.4M88.0,540.4L97.7,530.7M88.9,530.5L98.6,540.2M88.9,540.2L98.6,530.5M90.0,530.1L99.7,539.8M90.0,539.8L99.7,530.1M91.2,529.7L100.9,539.4M91.2,539.4L100.9,529.7M92.8,529.3L102.5,539.0M92.8,539.0L102.5,529.3M94.6,529.0L104.3,538.7M94.6,538.7L104.3,529.0M96.8,532.9L106.5,542.6M96.8,542.6L106.5,532.9M99.3,531.9L109.0,541.6M99.3,541.6L109.0,531.9M102.4,531.0L112.1,540.7M102.4,540.7L112.1,531.0M106.1,530.2L115.8,539.9M106.1,539.9L115.8,530.2M110.4,529.9L120.1,539.6M110.4,539.6L120.1,529.9M115.5,530.2L125.2,539.9M115.5,539.9L125.2,530.2M121.7,531.7L131.4,541.4M121.7,541.4L131.4,531.7M129.0,534.3L138.7,544.0M129.0,544.0L138.7,534.3M137.6,538.2L147.3,547.9M137.6,547.9L147.3,538.2M147.9,538.9L157.6,548.6M147.9,548.6L157.6,538.9M160.2,538.9L169.9,548.6M160.2,548.6L169.9,538.9M174.8,536.2L184.5,545.9M174.8,545.9L184.5,536.2M192.1,515.5L201.8,525.2M192.1,525.2L201.8,515.5M212.7,451.2L222.4,460.9M212.7,460.9L222.4,451.2M237.2,342.8L246.9,352.5M237.2,352.5L246.9,342.8M266.4,213.6L276.1,223.3M266.4,223.3L276.1,213.6M301.1,107.6L310.8,117.3M301.1,117.3L310.8,107.6M342.3,51.6L352.0,61.3M342.3,61.3L352.0,51.6M391.3,97.8L401.0,107.5M391.3,107.5L401.0,97.8M449.7,213.6L459.4,223.3M449.7,223.3L459.4,213.6M519.0,352.2L528.7,361.9M519.0,361.9L528.7,352.2M601.5,466.6L611.2,476.3M601.5,476.3L611.2,466.6M699.5,533.5L709.2,543.2M699.5,543.2L709.2,533.5M816.2,538.9L825.9,548.6M816.2,548.6L825.9,538.9M954.9,538.9L964.6,548.6M954.9,548.6L964.6,538.9" fill="none" stroke="#D400FF" stroke-width="1.7" stroke-linecap="round"/>
<path d="M88.04,543.69 C88.04,543.69 88.04,543.68 88.04,543.68 C88.05,543.68 88.05,543.68 88.05,543.68 C88.06,543.68 88.06,543.68 88.06,543.68 C88.07,543.67 88.07,543.67 88.08,543.67 C88.08,543.67 88.08,543.67 88.09,543.67 C88.09,543.66 88.10,543.66 88.11,543.66 C88.11,543.66 88.12,543.65 88.13,543.65 C88.13,543.65 88.14,543.65 88.15,543.64 C88.16,543.64 88.17,543.64 88.18,543.63 C88.19,543.63 88.20,543.62 88.21,543.62 C88.23,543.61 88.24,543.61 88.25,543.60 C88.27,543.60 88.28,543.59 88.30,543.59 C88.32,543.58 88.34,543.57 88.36,543.56 C88.38,543.56 88.40,543.55 88.43,543.54 C88.45,543.53 88.48,543.52 88.51,543.51 C88.54,543.50 88.57,543.48 88.60,543.47 C88.64,543.46 88.67,543.44 88.72,543.43 C88.76,543.41 88.80,543.39 88.85,543.38 C88.90,543.36 88.95,543.34 89.01,543.31 C89.07,543.29 89.13,543.27 89.20,543.24 C89.27,543.21 89.35,543.19 89.43,543.15 C89.51,543.12 89.60,543.09 89.70,543.05 C89.80,543.01 89.91,542.97 90.02,542.93 C90.14,542.88 90.27,542.84 90.41,542.78 C90.55,542.73 90.70,542.67 90.86,542.61 C91.03,542.55 91.21,542.48 91.41,542.40 C91.60,542.33 91.81,542.25 92.05,542.16 C92.28,542.07 92.54,541.97 92.82,541.87 C93.10,541.76 93.39,541.65 93.73,541.52 C94.06,541.39 94.41,541.26 94.81,541.11 C95.21,540.96 95.63,540.80 96.10,540.62 C96.57,540.44 97.07,540.25 97.63,540.03 C98.19,539.82 98.79,539.28 99.45,539.34 C100.12,539.40 100.83,540.29 101.62,540.38 C102.41,540.47 103.26,540.03 104.20,539.85 C105.14,539.68 106.14,539.47 107.26,539.32 C108.38,539.16 109.58,539.02 110.91,538.92 C112.24,538.82 113.66,538.72 115.24,538.72 C116.82,538.72 118.51,538.75 120.39,538.92 C122.28,539.09 124.29,539.34 126.52,539.72 C128.76,540.09 131.15,540.57 133.81,541.18 C136.47,541.78 139.32,542.94 142.48,543.36 C145.64,543.78 149.03,543.64 152.79,543.70 C156.55,543.76 160.58,544.14 165.05,543.70 C169.52,543.26 174.31,546.14 179.63,541.05 C184.95,535.96 190.64,528.84 196.96,513.16 C203.29,497.49 210.06,475.69 217.58,447.00 C225.10,418.30 233.15,379.77 242.10,341.02 C251.04,302.26 260.61,254.29 271.25,214.47 C281.89,174.65 293.27,129.54 305.93,102.09 C318.58,74.64 332.11,54.80 347.16,49.80 C362.20,44.79 378.30,50.78 396.19,72.08 C414.08,93.38 433.23,135.78 454.50,177.60 C475.78,219.43 498.55,278.25 523.85,323.03 C549.15,367.80 576.23,411.07 606.32,446.25 C636.41,481.42 668.60,517.83 704.38,534.07 C740.17,550.32 778.46,542.10 821.01,543.70 C863.56,545.30 936.58,543.70 959.70,543.70" fill="none" stroke="#1E00F0" stroke-width="4.4" stroke-linecap="round" stroke-linejoin="round" stroke-dasharray="13.2 18.65 0 18.65"/>
<path d="M83.2,538.8L92.9,548.5M83.2,548.5L92.9,538.8M83.2,538.8L92.9,548.5M83.2,548.5L92.9,538.8M83.2,538.8L92.9,548.5M83.2,548.5L92.9,538.8M83.2,538.8L92.9,548.5M83.2,548.5L92.9,538.8M83.2,538.8L92.9,548.5M83.2,548.5L92.9,538.8M83.2,538.8L92.9,548.5M83.2,548.5L92.9,538.8M83.3,538.8L93.0,548.5M83.3,548.5L93.0,538.8M83.3,538.8L93.0,548.5M83.3,548.5L93.0,538.8M83.3,538.8L93.0,548.5M83.3,548.5L93.0,538.8M83.3,538.8L93.0,548.5M83.3,548.5L93.0,538.8M83.4,538.8L93.1,548.5M83.4,548.5L93.1,538.8M83.4,538.8L93.1,548.5M83.4,548.5L93.1,538.8M83.5,538.7L93.2,548.4M83.5,548.4L93.2,538.7M83.5,538.7L93.2,548.4M83.5,548.4L93.2,538.7M83.6,538.7L93.3,548.4M83.6,548.4L93.3,538.7M83.7,538.7L93.4,548.4M83.7,548.4L93.4,538.7M83.8,538.6L93.5,548.3M83.8,548.3L93.5,538.6M83.9,538.6L93.6,548.3M83.9,548.3L93.6,538.6M84.0,538.5L93.7,548.2M84.0,548.2L93.7,538.5M84.2,538.5L93.9,548.2M84.2,548.2L93.9,538.5M84.4,538.4L94.1,548.1M84.4,548.1L94.1,538.4M84.6,538.3L94.3,548.0M84.6,548.0L94.3,538.3M84.9,538.2L94.6,547.9M84.9,547.9L94.6,538.2M85.2,538.1L94.9,547.8M85.2,547.8L94.9,538.1M85.6,537.9L95.3,547.6M85.6,547.6L95.3,537.9M86.0,537.8L95.7,547.5M86.0,547.5L95.7,537.8M86.6,537.6L96.3,547.3M86.6,547.3L96.3,537.6M87.2,537.3L96.9,547.0M87.2,547.0L96.9,537.3M88.0,537.0L97.7,546.7M88.0,546.7L97.7,537.0M88.9,536.7L98.6,546.4M88.9,546.4L98.6,536.7M90.0,536.3L99.7,546.0M90.0,546.0L99.7,536.3M91.2,535.8L100.9,545.5M91.2,545.5L100.9,535.8M92.8,535.2L102.5,544.9M92.8,544.9L102.5,535.2M94.6,534.5L104.3,544.2M94.6,544.2L104.3,534.5M96.8,535.5L106.5,545.2M96.8,545.2L106.5,535.5M99.3,535.0L109.0,544.7M99.3,544.7L109.0,535.0M102.4,534.5L112.1,544.2M102.4,544.2L112.1,534.5M106.1,534.1L115.8,543.8M106.1,543.8L115.8,534.1M110.4,533.9L120.1,543.6M110.4,543.6L120.1,533.9M115.5,534.1L125.2,543.8M115.5,543.8L125.2,534.1M121.7,534.9L131.4,544.6M121.7,544.6L131.4,534.9M129.0,536.3L138.7,546.0M129.0,546.0L138.7,536.3M137.6,538.5L147.3,548.2M137.6,548.2L147.3,538.5M147.9,538.9L157.6,548.6M147.9,548.6L157.6,538.9M160.2,538.9L169.9,548.6M160.2,548.6L169.9,538.9M174.8,536.2L184.5,545.9M174.8,545.9L184.5,536.2M192.1,508.3L201.8,518.0M192.1,518.0L201.8,508.3M212.7,442.1L222.4,451.8M212.7,451.8L222.4,442.1M237.2,336.2L246.9,345.9M237.2,345.9L246.9,336.2M266.4,209.6L276.1,219.3M266.4,219.3L276.1,209.6M301.1,97.2L310.8,106.9M301.1,106.9L310.8,97.2M342.3,44.9L352.0,54.6M342.3,54.6L352.0,44.9M391.3,67.2L401.0,76.9M391.3,76.9L401.0,67.2M449.7,172.8L459.4,182.5M449.7,182.5L459.4,172.8M519.0,318.2L528.7,327.9M519.0,327.9L528.7,318.2M601.5,441.4L611.2,451.1M601.5,451.1L611.2,441.4M699.5,529.2L709.2,538.9M699.5,538.9L709.2,529.2M816.2,538.9L825.9,548.6M816.2,548.6L825.9,538.9M954.9,538.9L964.6,548.6M954.9,548.6L964.6,538.9" fill="none" stroke="#D400FF" stroke-width="1.7" stroke-linecap="round"/>
<path d="M88.04,541.02 C88.04,541.02 88.04,541.02 88.04,541.02 C88.05,541.02 88.05,541.01 88.05,541.01 C88.06,541.01 88.06,541.01 88.06,541.01 C88.07,541.00 88.07,541.00 88.08,541.00 C88.08,541.00 88.08,540.99 88.09,540.99 C88.09,540.99 88.10,540.98 88.11,540.98 C88.11,540.98 88.12,540.97 88.13,540.97 C88.13,540.96 88.14,540.96 88.15,540.95 C88.16,540.95 88.17,540.94 88.18,540.94 C88.19,540.93 88.20,540.92 88.21,540.91 C88.23,540.91 88.24,540.90 88.25,540.89 C88.27,540.88 88.28,540.87 88.30,540.86 C88.32,540.85 88.34,540.84 88.36,540.83 C88.38,540.81 88.40,540.80 88.43,540.79 C88.45,540.77 88.48,540.75 88.51,540.74 C88.54,540.72 88.57,540.70 88.60,540.68 C88.64,540.66 88.67,540.63 88.72,540.61 C88.76,540.58 88.80,540.56 88.85,540.53 C88.90,540.50 88.95,540.46 89.01,540.43 C89.07,540.39 89.13,540.35 89.20,540.31 C89.27,540.27 89.35,540.22 89.43,540.17 C89.51,540.12 89.60,540.07 89.70,540.01 C89.80,539.95 89.91,539.88 90.02,539.81 C90.14,539.74 90.27,539.66 90.41,539.58 C90.55,539.49 90.70,539.40 90.86,539.30 C91.03,539.20 91.21,539.09 91.41,538.97 C91.60,538.85 91.81,538.72 92.05,538.58 C92.28,538.43 92.54,538.28 92.82,538.11 C93.10,537.94 93.39,537.76 93.73,537.56 C94.06,537.35 94.41,537.14 94.81,536.90 C95.21,536.65 95.63,536.40 96.10,536.11 C96.57,535.82 97.07,535.52 97.63,535.18 C98.19,534.84 98.79,534.86 99.45,534.07 C100.12,533.27 100.83,531.21 101.62,530.42 C102.41,529.64 103.26,529.72 104.20,529.36 C105.14,529.01 106.14,528.56 107.26,528.30 C108.38,528.03 109.58,527.94 110.91,527.77 C112.24,527.59 113.66,527.15 115.24,527.24 C116.82,527.33 118.51,527.77 120.39,528.30 C122.28,528.83 124.29,529.62 126.52,530.42 C128.76,531.22 131.15,532.55 133.81,533.08 C136.47,533.61 139.32,534.05 142.48,533.61 C145.64,533.16 149.03,533.34 152.79,530.42 C156.55,527.50 160.58,523.92 165.05,516.09 C169.52,508.26 174.31,497.91 179.63,483.43 C184.95,468.96 190.64,450.06 196.96,429.25 C203.29,408.44 210.06,383.10 217.58,358.58 C225.10,334.05 233.15,305.68 242.10,282.10 C251.04,258.52 260.61,233.38 271.25,217.10 C281.89,200.82 293.27,188.84 305.93,184.41 C318.58,179.98 332.11,181.09 347.16,190.52 C362.20,199.94 378.30,220.16 396.19,240.97 C414.08,261.78 433.23,289.05 454.50,315.38 C475.78,341.72 498.55,370.70 523.85,398.98 C549.15,427.25 576.23,461.57 606.32,485.02 C636.41,508.47 668.60,529.89 704.38,539.68 C740.17,549.46 778.46,543.03 821.01,543.70 C863.56,544.37 936.58,543.70 959.70,543.70" fill="none" stroke="#1E00F0" stroke-width="4.4" stroke-linecap="round" stroke-linejoin="round" stroke-dasharray="0 8.9"/>
<path d="M83.2,536.2L92.9,545.9M83.2,545.9L92.9,536.2M83.2,536.2L92.9,545.9M83.2,545.9L92.9,536.2M83.2,536.2L92.9,545.9M83.2,545.9L92.9,536.2M83.2,536.2L92.9,545.9M83.2,545.9L92.9,536.2M83.2,536.1L92.9,545.8M83.2,545.8L92.9,536.1M83.2,536.1L92.9,545.8M83.2,545.8L92.9,536.1M83.3,536.1L93.0,545.8M83.3,545.8L93.0,536.1M83.3,536.1L93.0,545.8M83.3,545.8L93.0,536.1M83.3,536.1L93.0,545.8M83.3,545.8L93.0,536.1M83.3,536.1L93.0,545.8M83.3,545.8L93.0,536.1M83.4,536.1L93.1,545.8M83.4,545.8L93.1,536.1M83.4,536.0L93.1,545.7M83.4,545.7L93.1,536.0M83.5,536.0L93.2,545.7M83.5,545.7L93.2,536.0M83.5,536.0L93.2,545.7M83.5,545.7L93.2,536.0M83.6,535.9L93.3,545.6M83.6,545.6L93.3,535.9M83.7,535.9L93.4,545.6M83.7,545.6L93.4,535.9M83.8,535.8L93.5,545.5M83.8,545.5L93.5,535.8M83.9,535.8L93.6,545.5M83.9,545.5L93.6,535.8M84.0,535.7L93.7,545.4M84.0,545.4L93.7,535.7M84.2,535.6L93.9,545.3M84.2,545.3L93.9,535.6M84.4,535.5L94.1,545.2M84.4,545.2L94.1,535.5M84.6,535.3L94.3,545.0M84.6,545.0L94.3,535.3M84.9,535.2L94.6,544.9M84.9,544.9L94.6,535.2M85.2,535.0L94.9,544.7M85.2,544.7L94.9,535.0M85.6,534.7L95.3,544.4M85.6,544.4L95.3,534.7M86.0,534.4L95.7,544.1M86.0,544.1L95.7,534.4M86.6,534.1L96.3,543.8M86.6,543.8L96.3,534.1M87.2,533.7L96.9,543.4M87.2,543.4L96.9,533.7M88.0,533.3L97.7,543.0M88.0,543.0L97.7,533.3M88.9,532.7L98.6,542.4M88.9,542.4L98.6,532.7M90.0,532.0L99.7,541.7M90.0,541.7L99.7,532.0M91.2,531.3L100.9,541.0M91.2,541.0L100.9,531.3M92.8,530.3L102.5,540.0M92.8,540.0L102.5,530.3M94.6,529.2L104.3,538.9M94.6,538.9L104.3,529.2M96.8,525.6L106.5,535.3M96.8,535.3L106.5,525.6M99.3,524.5L109.0,534.2M99.3,534.2L109.0,524.5M102.4,523.4L112.1,533.1M102.4,533.1L112.1,523.4M106.1,522.9L115.8,532.6M106.1,532.6L115.8,522.9M110.4,522.4L120.1,532.1M110.4,532.1L120.1,522.4M115.5,523.4L125.2,533.1M115.5,533.1L125.2,523.4M121.7,525.6L131.4,535.3M121.7,535.3L131.4,525.6M129.0,528.2L138.7,537.9M129.0,537.9L138.7,528.2M137.6,528.8L147.3,538.5M137.6,538.5L147.3,528.8M147.9,525.6L157.6,535.3M147.9,535.3L157.6,525.6M160.2,511.2L169.9,520.9M160.2,520.9L169.9,511.2M174.8,478.6L184.5,488.3M174.8,488.3L184.5,478.6M192.1,424.4L201.8,434.1M192.1,434.1L201.8,424.4M212.7,353.7L222.4,363.4M212.7,363.4L222.4,353.7M237.2,277.2L246.9,286.9M237.2,286.9L246.9,277.2M266.4,212.3L276.1,222.0M266.4,222.0L276.1,212.3M301.1,179.6L310.8,189.3M301.1,189.3L310.8,179.6M342.3,185.7L352.0,195.4M342.3,195.4L352.0,185.7M391.3,236.1L401.0,245.8M391.3,245.8L401.0,236.1M449.7,310.5L459.4,320.2M449.7,320.2L459.4,310.5M519.0,394.1L528.7,403.8M519.0,403.8L528.7,394.1M601.5,480.2L611.2,489.9M601.5,489.9L611.2,480.2M699.5,534.8L709.2,544.5M699.5,544.5L709.2,534.8M816.2,538.9L825.9,548.6M816.2,548.6L825.9,538.9M954.9,538.9L964.6,548.6M954.9,548.6L964.6,538.9" fill="none" stroke="#D400FF" stroke-width="1.7" stroke-linecap="round"/>
<path d="M88.04,538.90 C88.04,538.90 88.04,538.90 88.04,538.90 C88.05,538.90 88.05,538.90 88.05,538.90 C88.06,538.89 88.06,538.89 88.06,538.89 C88.07,538.89 88.07,538.89 88.08,538.89 C88.08,538.88 88.08,538.88 88.09,538.88 C88.09,538.88 88.10,538.87 88.11,538.87 C88.11,538.87 88.12,538.87 88.13,538.86 C88.13,538.86 88.14,538.86 88.15,538.85 C88.16,538.85 88.17,538.84 88.18,538.84 C88.19,538.83 88.20,538.83 88.21,538.82 C88.23,538.82 88.24,538.81 88.25,538.80 C88.27,538.80 88.28,538.79 88.30,538.78 C88.32,538.77 88.34,538.77 88.36,538.76 C88.38,538.75 88.40,538.74 88.43,538.73 C88.45,538.71 88.48,538.70 88.51,538.69 C88.54,538.68 88.57,538.66 88.60,538.65 C88.64,538.63 88.67,538.61 88.72,538.59 C88.76,538.57 88.80,538.55 88.85,538.53 C88.90,538.51 88.95,538.48 89.01,538.46 C89.07,538.43 89.13,538.40 89.20,538.37 C89.27,538.34 89.35,538.30 89.43,538.27 C89.51,538.23 89.60,538.19 89.70,538.14 C89.80,538.10 89.91,538.05 90.02,537.99 C90.14,537.94 90.27,537.88 90.41,537.82 C90.55,537.76 90.70,537.69 90.86,537.61 C91.03,537.54 91.21,537.45 91.41,537.36 C91.60,537.27 91.81,537.18 92.05,537.07 C92.28,536.96 92.54,536.85 92.82,536.72 C93.10,536.59 93.39,536.46 93.73,536.30 C94.06,536.15 94.41,535.99 94.81,535.81 C95.21,535.63 95.63,535.43 96.10,535.22 C96.57,535.00 97.07,534.74 97.63,534.52 C98.19,534.30 98.79,534.23 99.45,533.87 C100.12,533.52 100.83,532.96 101.62,532.41 C102.41,531.87 103.26,531.22 104.20,530.62 C105.14,530.02 106.14,529.32 107.26,528.80 C108.38,528.27 109.58,527.79 110.91,527.45 C112.24,527.11 113.66,526.77 115.24,526.77 C116.82,526.77 118.51,526.89 120.39,527.45 C122.28,528.01 124.29,528.88 126.52,530.15 C128.76,531.43 131.15,533.05 133.81,535.12 C136.47,537.19 139.32,541.13 142.48,542.56 C145.64,543.99 149.03,543.51 152.79,543.70 C156.55,543.89 160.58,543.92 165.05,543.70 C169.52,543.48 174.31,545.03 179.63,542.37 C184.95,539.72 190.64,539.06 196.96,527.77 C203.29,516.47 210.06,498.93 217.58,474.62 C225.10,450.31 233.15,419.07 242.10,381.91 C251.04,344.75 260.61,295.37 271.25,251.65 C281.89,207.94 293.27,148.52 305.93,119.62 C318.58,90.71 332.11,82.59 347.16,78.21 C362.20,73.82 378.30,75.04 396.19,93.33 C414.08,111.61 433.23,152.27 454.50,187.94 C475.78,223.61 498.55,267.45 523.85,307.36 C549.15,347.27 576.23,392.75 606.32,427.39 C636.41,462.04 668.60,495.83 704.38,515.22 C740.17,534.60 778.46,538.95 821.01,543.70 C863.56,548.45 936.58,543.70 959.70,543.70" fill="none" stroke="#1E00F0" stroke-width="4.4" stroke-linecap="round" stroke-linejoin="round" stroke-dasharray="31.7 18.3"/>
<path d="M83.2,534.1L92.9,543.8M83.2,543.8L92.9,534.1M83.2,534.0L92.9,543.7M83.2,543.7L92.9,534.0M83.2,534.0L92.9,543.7M83.2,543.7L92.9,534.0M83.2,534.0L92.9,543.7M83.2,543.7L92.9,534.0M83.2,534.0L92.9,543.7M83.2,543.7L92.9,534.0M83.2,534.0L92.9,543.7M83.2,543.7L92.9,534.0M83.3,534.0L93.0,543.7M83.3,543.7L93.0,534.0M83.3,534.0L93.0,543.7M83.3,543.7L93.0,534.0M83.3,534.0L93.0,543.7M83.3,543.7L93.0,534.0M83.3,534.0L93.0,543.7M83.3,543.7L93.0,534.0M83.4,534.0L93.1,543.7M83.4,543.7L93.1,534.0M83.4,534.0L93.1,543.7M83.4,543.7L93.1,534.0M83.5,533.9L93.2,543.6M83.5,543.6L93.2,533.9M83.5,533.9L93.2,543.6M83.5,543.6L93.2,533.9M83.6,533.9L93.3,543.6M83.6,543.6L93.3,533.9M83.7,533.8L93.4,543.5M83.7,543.5L93.4,533.8M83.8,533.8L93.5,543.5M83.8,543.5L93.5,533.8M83.9,533.7L93.6,543.4M83.9,543.4L93.6,533.7M84.0,533.7L93.7,543.4M84.0,543.4L93.7,533.7M84.2,533.6L93.9,543.3M84.2,543.3L93.9,533.6M84.4,533.5L94.1,543.2M84.4,543.2L94.1,533.5M84.6,533.4L94.3,543.1M84.6,543.1L94.3,533.4M84.9,533.3L94.6,543.0M84.9,543.0L94.6,533.3M85.2,533.1L94.9,542.8M85.2,542.8L94.9,533.1M85.6,533.0L95.3,542.7M85.6,542.7L95.3,533.0M86.0,532.8L95.7,542.5M86.0,542.5L95.7,532.8M86.6,532.5L96.3,542.2M86.6,542.2L96.3,532.5M87.2,532.2L96.9,541.9M87.2,541.9L96.9,532.2M88.0,531.9L97.7,541.6M88.0,541.6L97.7,531.9M88.9,531.5L98.6,541.2M88.9,541.2L98.6,531.5M90.0,531.0L99.7,540.7M90.0,540.7L99.7,531.0M91.2,530.4L100.9,540.1M91.2,540.1L100.9,530.4M92.8,529.7L102.5,539.4M92.8,539.4L102.5,529.7M94.6,529.0L104.3,538.7M94.6,538.7L104.3,529.0M96.8,527.6L106.5,537.3M96.8,537.3L106.5,527.6M99.3,525.8L109.0,535.5M99.3,535.5L109.0,525.8M102.4,523.9L112.1,533.6M102.4,533.6L112.1,523.9M106.1,522.6L115.8,532.3M106.1,532.3L115.8,522.6M110.4,521.9L120.1,531.6M110.4,531.6L120.1,521.9M115.5,522.6L125.2,532.3M115.5,532.3L125.2,522.6M121.7,525.3L131.4,535.0M121.7,535.0L131.4,525.3M129.0,530.3L138.7,540.0M129.0,540.0L138.7,530.3M137.6,537.7L147.3,547.4M137.6,547.4L147.3,537.7M147.9,538.9L157.6,548.6M147.9,548.6L157.6,538.9M160.2,538.9L169.9,548.6M160.2,548.6L169.9,538.9M174.8,537.5L184.5,547.2M174.8,547.2L184.5,537.5M192.1,522.9L201.8,532.6M192.1,532.6L201.8,522.9M212.7,469.8L222.4,479.5M212.7,479.5L222.4,469.8M237.2,377.1L246.9,386.8M237.2,386.8L246.9,377.1M266.4,246.8L276.1,256.5M266.4,256.5L276.1,246.8M301.1,114.8L310.8,124.5M301.1,124.5L310.8,114.8M342.3,73.4L352.0,83.1M342.3,83.1L352.0,73.4M391.3,88.5L401.0,98.2M391.3,98.2L401.0,88.5M449.7,183.1L459.4,192.8M449.7,192.8L459.4,183.1M519.0,302.5L528.7,312.2M519.0,312.2L528.7,302.5M601.5,422.5L611.2,432.2M601.5,432.2L611.2,422.5M699.5,510.4L709.2,520.1M699.5,520.1L709.2,510.4M816.2,538.9L825.9,548.6M816.2,548.6L825.9,538.9M954.9,538.9L964.6,548.6M954.9,548.6L964.6,538.9" fill="none" stroke="#D400FF" stroke-width="1.7" stroke-linecap="round"/>
<line x1="101.9" y1="17.8" x2="101.9" y2="543.7" stroke="#000" stroke-width="2.2" stroke-linecap="round" stroke-dasharray="4.1 4.894"/>
<line x1="311" y1="17.8" x2="311" y2="543.7" stroke="#000" stroke-width="2.2" stroke-linecap="round" stroke-dasharray="4.1 4.894"/>
<text transform="translate(84.50,166.20) scale(1,1.05)">Clay</text>
<text transform="translate(217.00,168.00) scale(1,1.05)">Silt</text>
<text transform="translate(339.50,165.90) scale(1,1.05)">Sand</text>
<line x1="695.7" y1="46.3" x2="753.8" y2="46.3" stroke="#FF4343" stroke-width="4.4" stroke-linecap="round"/>
<path d="M720.6,41.4L730.4,51.1M720.6,51.1L730.4,41.4" fill="none" stroke="#000" stroke-width="1.7" stroke-linecap="round"/>
<text transform="translate(761.00,55.00) scale(1,1.05)">p1</text>
<line x1="829.9" y1="46.3" x2="888.0" y2="46.3" stroke="#FF4343" stroke-width="4.4" stroke-linecap="round" stroke-dasharray="8.5 10"/>
<path d="M854.9,41.4L864.6,51.1M854.9,51.1L864.6,41.4" fill="none" stroke="#000" stroke-width="1.7" stroke-linecap="round"/>
<text transform="translate(895.20,55.00) scale(1,1.05)">p2</text>
<line x1="695.7" y1="87.5" x2="753.8" y2="87.5" stroke="#FF4343" stroke-width="4.4" stroke-linecap="round" stroke-dasharray="13.2 18.65 0 18.65"/>
<path d="M720.6,82.7L730.4,92.3M720.6,92.3L730.4,82.7" fill="none" stroke="#000" stroke-width="1.7" stroke-linecap="round"/>
<text transform="translate(761.00,96.20) scale(1,1.05)">p3</text>
<line x1="829.9" y1="87.5" x2="888.0" y2="87.5" stroke="#1E00F0" stroke-width="4.4" stroke-linecap="round"/>
<path d="M854.9,82.7L864.6,92.3M854.9,92.3L864.6,82.7" fill="none" stroke="#D400FF" stroke-width="1.7" stroke-linecap="round"/>
<text transform="translate(895.20,96.20) scale(1,1.05)">n1</text>
<line x1="695.7" y1="128.6" x2="753.8" y2="128.6" stroke="#1E00F0" stroke-width="4.4" stroke-linecap="round" stroke-dasharray="8.5 10"/>
<path d="M720.6,123.8L730.4,133.4M720.6,133.4L730.4,123.8" fill="none" stroke="#D400FF" stroke-width="1.7" stroke-linecap="round"/>
<text transform="translate(761.00,137.30) scale(1,1.05)">n2</text>
<line x1="829.9" y1="128.6" x2="888.0" y2="128.6" stroke="#1E00F0" stroke-width="4.4" stroke-linecap="round" stroke-dasharray="13.5 19.2"/>
<path d="M854.9,123.8L864.6,133.4M854.9,133.4L864.6,123.8" fill="none" stroke="#D400FF" stroke-width="1.7" stroke-linecap="round"/>
<text transform="translate(895.20,137.30) scale(1,1.05)">n3</text>
<line x1="695.7" y1="169.6" x2="753.8" y2="169.6" stroke="#1E00F0" stroke-width="4.4" stroke-linecap="round" stroke-dasharray="13.2 18.65 0 18.65"/>
<path d="M720.6,164.8L730.4,174.4M720.6,174.4L730.4,164.8" fill="none" stroke="#D400FF" stroke-width="1.7" stroke-linecap="round"/>
<text transform="translate(761.00,178.30) scale(1,1.05)">n4</text>
<line x1="829.9" y1="169.6" x2="888.0" y2="169.6" stroke="#1E00F0" stroke-width="4.4" stroke-linecap="round" stroke-dasharray="0 8.9"/>
<path d="M854.9,164.8L864.6,174.4M854.9,174.4L864.6,164.8" fill="none" stroke="#D400FF" stroke-width="1.7" stroke-linecap="round"/>
<text transform="translate(895.20,178.30) scale(1,1.05)">n5</text>
<line x1="695.7" y1="211.3" x2="753.8" y2="211.3" stroke="#1E00F0" stroke-width="4.4" stroke-linecap="round" stroke-dasharray="31.7 18.3"/>
<path d="M720.6,206.5L730.4,216.2M720.6,216.2L730.4,206.5" fill="none" stroke="#D400FF" stroke-width="1.7" stroke-linecap="round"/>
<text transform="translate(761.00,220.00) scale(1,1.05)">n6</text>
</svg></body></html>
